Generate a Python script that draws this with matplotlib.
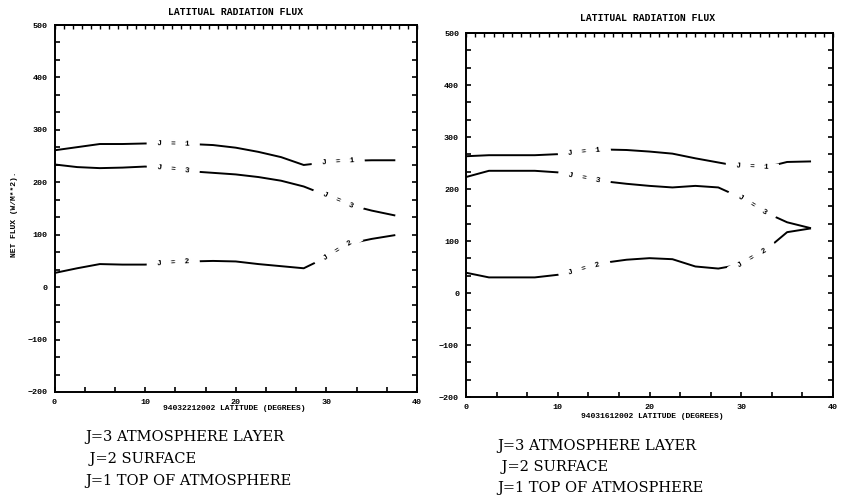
import numpy as np
import matplotlib
matplotlib.use("Agg")
import matplotlib.pyplot as plt
from matplotlib.ticker import MultipleLocator

# Latitude grid (degrees)
lat = [0, 2.5, 5, 7.5, 10, 12.5, 15, 17.5, 20, 22.5, 25, 27.5, 30, 32.5, 35, 37.5]

# Run 94032212002 (net flux, W/m**2)
a_j1 = [261, 267, 273, 273, 274, 274, 273, 271, 266, 258, 248, 233, 238, 241, 242, 242]
a_j3 = [234, 229, 227, 228, 230, 226, 221, 218, 215, 210, 203, 192, 175, 157, 146, 137]
a_j2 = [27, 36, 44, 43, 43, 46, 49, 50, 49, 44, 40, 36, 57, 83, 92, 99]

# Run 94031612002 (net flux, W/m**2)
b_j1 = [263, 265, 265, 265, 267, 271, 276, 275, 272, 268, 259, 251, 243, 241, 252, 253]
b_j3 = [223, 235, 235, 235, 232, 222, 215, 210, 206, 203, 206, 203, 183, 156, 136, 125]
b_j2 = [39, 30, 30, 30, 35, 45, 58, 64, 67, 65, 51, 47, 55, 80, 117, 124]

title = "LATITUAL RADIATION FLUX"
ylabel = "NET FLUX (W/M**2)."
xlabels = ["94032212002 LATITUDE (DEGREES)", "94031612002 LATITUDE (DEGREES)"]
legend_lines = ["J=3 ATMOSPHERE LAYER", " J=2 SURFACE", "J=1 TOP OF ATMOSPHERE"]
yticks = [-200, -100, 0, 100, 200, 300, 400, 500]
xticks = [0, 10, 20, 30, 40]

W, H = 850, 497
fig = plt.figure(figsize=(W / 100, H / 100), dpi=100)
fig.patch.set_facecolor("white")

mono = "Liberation Mono"


def px_axes(l, r, t, b):
    return fig.add_axes([l / W, 1 - b / H, (r - l) / W, (b - t) / H])


def style_axes(ax):
    ax.set_xlim(0, 40)
    ax.set_ylim(-200, 500)
    ax.set_xticks(xticks)
    ax.set_yticks(yticks)
    ax.xaxis.set_minor_locator(MultipleLocator(10 / 3))
    ax.yaxis.set_minor_locator(MultipleLocator(100 / 3))
    ax.tick_params(which="both", direction="in", length=3.5, width=1.2,
                   top=False, right=True, labelsize=6, pad=5)
    for lab in ax.get_xticklabels() + ax.get_yticklabels():
        lab.set_fontfamily(mono)
        lab.set_fontweight("bold")
    for s in ax.spines.values():
        s.set_linewidth(1.4)
    # fine ticks along the top edge
    top = ax.secondary_xaxis("top")
    top.xaxis.set_major_locator(MultipleLocator(1))
    top.tick_params(direction="in", length=3, width=1.0, labeltop=False)
    top.spines["top"].set_linewidth(1.4)


def line_label(ax, x, y, xc, text):
    yc = np.interp(xc, x, y)
    p0 = ax.transData.transform((xc - 1.2, np.interp(xc - 1.2, x, y)))
    p1 = ax.transData.transform((xc + 1.2, np.interp(xc + 1.2, x, y)))
    ang = np.degrees(np.arctan2(p1[1] - p0[1], p1[0] - p0[0]))
    ax.text(xc, yc, text, ha="center", va="center", rotation=ang,
            rotation_mode="anchor", fontsize=5.5, fontfamily=mono,
            fontweight="bold", zorder=5,
            bbox=dict(boxstyle="square,pad=0.15", fc="white", ec="none"))


def draw_panel(ax, series, label_x):
    for vals, name in series:
        ax.plot(lat, vals, color="black", lw=1.4, zorder=2)
        for xc in label_x:
            line_label(ax, lat, vals, xc, "  J  =  %s  " % name)


ax1 = px_axes(54.5, 417, 25, 392)
style_axes(ax1)
draw_panel(ax1, [(a_j1, "1"), (a_j3, "3"), (a_j2, "2")], [13.1, 31.3])

ax2 = px_axes(466, 833, 33, 397)
style_axes(ax2)
draw_panel(ax2, [(b_j1, "1"), (b_j3, "3"), (b_j2, "2")], [12.9, 31.2])

# Titles and axis captions
fig.text(236 / W, 1 - 12 / H, title, ha="center", va="center",
         fontsize=7, fontfamily=mono, fontweight="bold")
fig.text(648 / W, 1 - 18 / H, title, ha="center", va="center",
         fontsize=7, fontfamily=mono, fontweight="bold")
fig.text(234 / W, 1 - 409 / H, xlabels[0], ha="center", va="center",
         fontsize=5.8, fontfamily=mono, fontweight="bold")
fig.text(652 / W, 1 - 417 / H, xlabels[1], ha="center", va="center",
         fontsize=5.8, fontfamily=mono, fontweight="bold")
fig.text(14 / W, 1 - 214 / H, ylabel, ha="center", va="center", rotation=90,
         fontsize=5.8, fontfamily=mono, fontweight="bold")

# Key for the curve labels
for (x0, y0), dy in zip([(85, 441), (497, 450)], [22, 21]):
    for i, s in enumerate(legend_lines):
        fig.text(x0 / W, 1 - (y0 + i * dy) / H, s, ha="left", va="baseline",
                 fontsize=10.5, fontfamily="DejaVu Serif")

fig.savefig("out.png", dpi=100, facecolor="white")
